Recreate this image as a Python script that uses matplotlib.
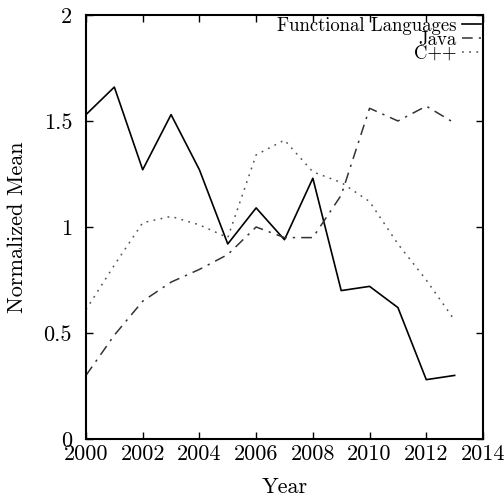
import matplotlib.pyplot as plt
from matplotlib.ticker import FixedLocator, FixedFormatter

plt.rcParams["font.family"] = "cmr10"
plt.rcParams["axes.formatter.use_mathtext"] = True
plt.rcParams["mathtext.fontset"] = "cm"

years = list(range(2000, 2014))
functional = [1.53, 1.66, 1.27, 1.53, 1.27, 0.92, 1.09, 0.94, 1.23, 0.70, 0.72, 0.62, 0.28, 0.30]
java = [0.30, 0.49, 0.65, 0.74, 0.80, 0.87, 1.00, 0.95, 0.95, 1.15, 1.56, 1.50, 1.57, 1.49]
cpp = [0.61, 0.82, 1.02, 1.05, 1.01, 0.95, 1.34, 1.41, 1.26, 1.21, 1.12, 0.92, 0.75, 0.56]

xticks = [2000, 2002, 2004, 2006, 2008, 2010, 2012, 2014]
yticks = [0, 0.5, 1, 1.5, 2]
ytick_labels = ["0", "0.5", "1", "1.5", "2"]

fig = plt.figure(figsize=(5.04, 4.99), dpi=100)
ax = fig.add_axes([0.1706, 0.1202, 0.7877, 0.8498])

ax.plot(years, functional, color="black", lw=1.2, label="Functional Languages")
ax.plot(years, java, color="#333333", lw=1.1, ls=(0, (7, 4, 1.5, 4)), label="Java")
ax.plot(years, cpp, color="#555555", lw=1.1, ls=(0, (1.2, 3.5)), label="C++")

ax.set_xlim(2000, 2014)
ax.set_ylim(0, 2)
ax.xaxis.set_major_locator(FixedLocator(xticks))
ax.xaxis.set_major_formatter(FixedFormatter([str(x) for x in xticks]))
ax.yaxis.set_major_locator(FixedLocator(yticks))
ax.yaxis.set_major_formatter(FixedFormatter(ytick_labels))
ax.tick_params(direction="in", top=True, right=True, length=5, width=1,
               labelsize=16)
ax.tick_params(axis="x", pad=4)
ax.tick_params(axis="y", pad=10)
for s in ax.spines.values():
    s.set_linewidth(1.5)

ax.set_xlabel("Year", fontsize=16, labelpad=10)
ax.set_ylabel("Normalized Mean", fontsize=16, labelpad=12)

leg = ax.legend(loc="upper right", frameon=False, markerfirst=False,
                fontsize=13.5, handlelength=1.0, handletextpad=0.3,
                labelspacing=-0.22, borderaxespad=0.05, borderpad=0.05)
for t in leg.get_texts():
    t.set_ha("right")

fig.savefig("out.png", dpi=100)
